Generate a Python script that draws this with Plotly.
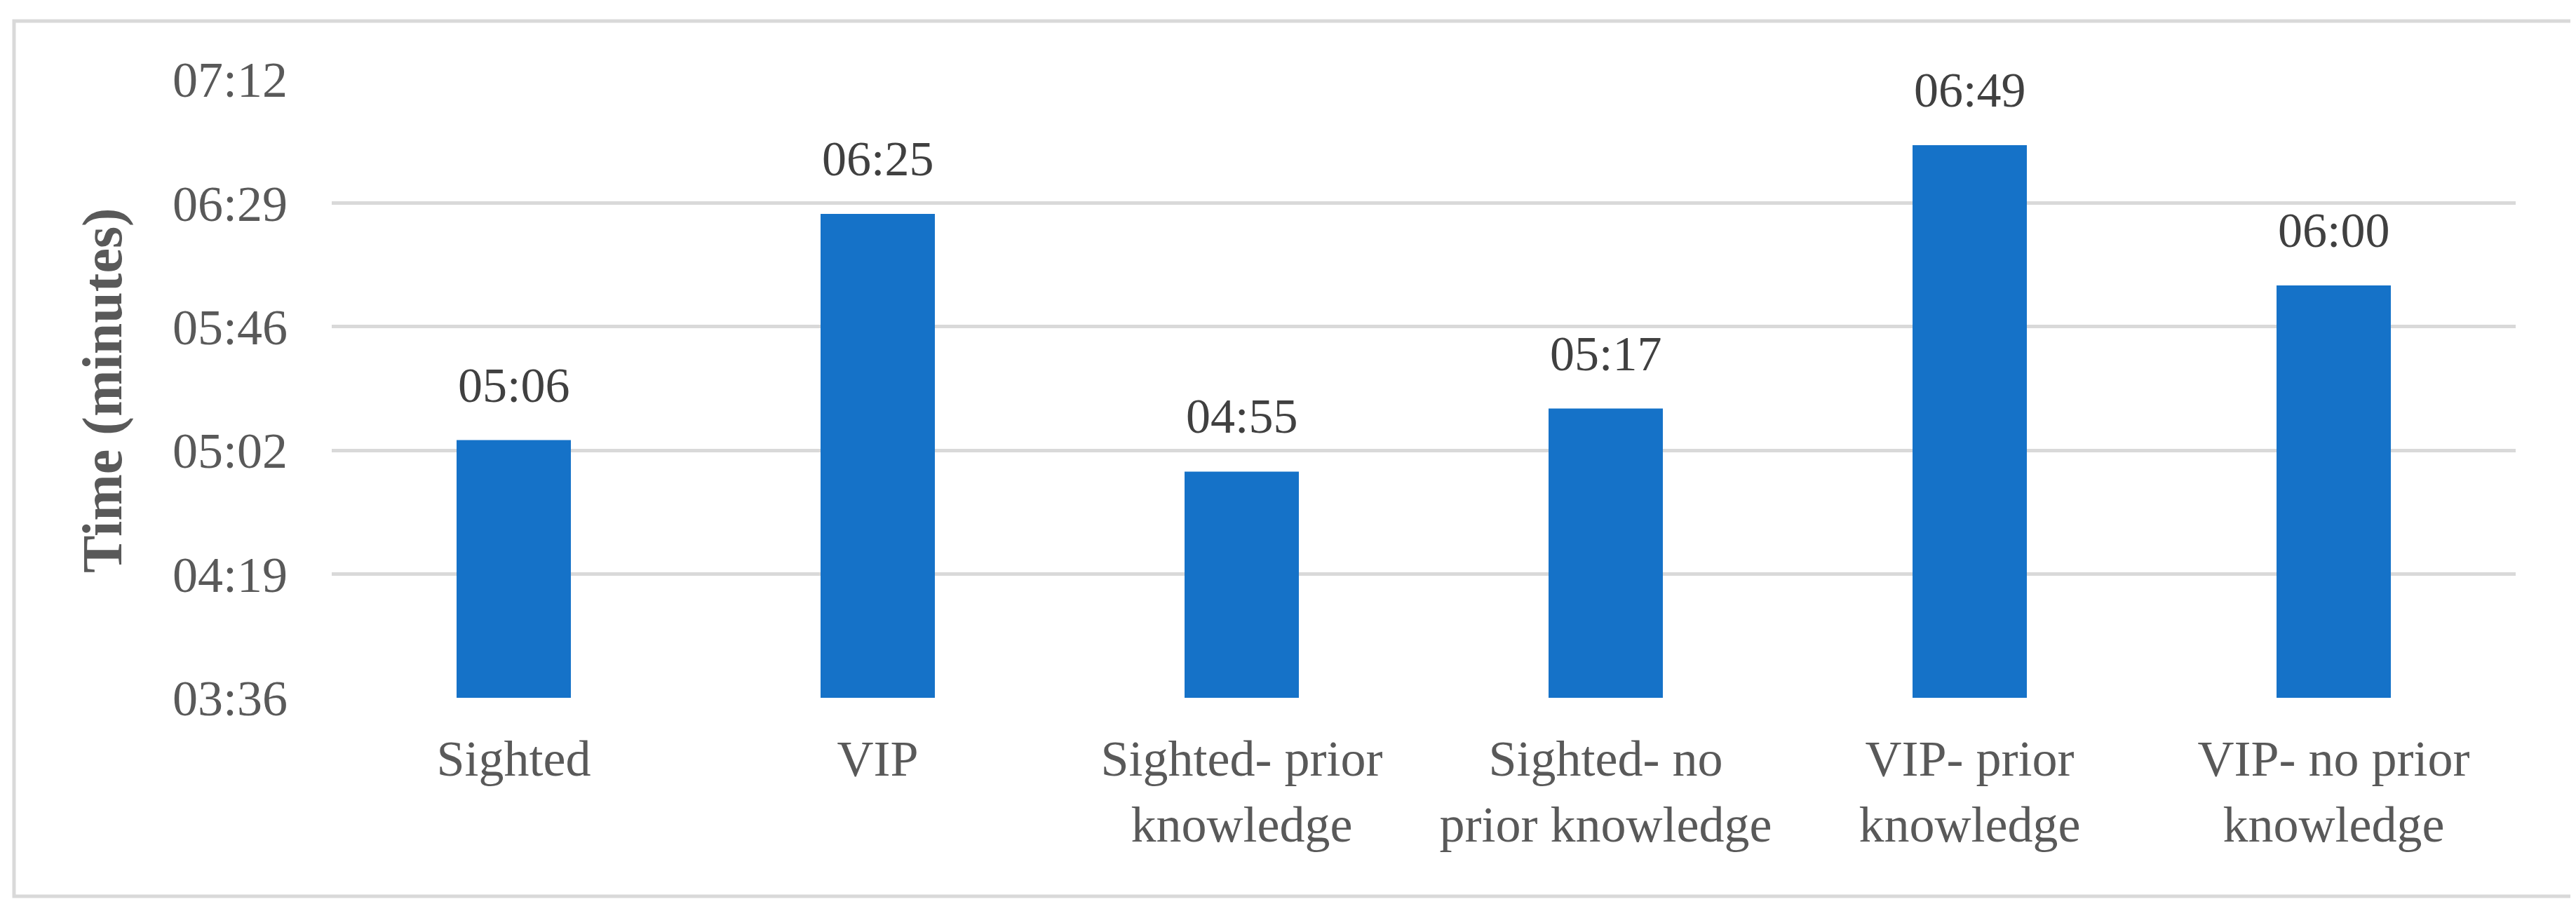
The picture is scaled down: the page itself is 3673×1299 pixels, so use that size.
import plotly.graph_objects as go

# ---- data ----
categories = [
    "Sighted",
    "VIP",
    "Sighted- prior<br>knowledge",
    "Sighted- no<br>prior knowledge",
    "VIP- prior<br>knowledge",
    "VIP- no prior<br>knowledge",
]
times_sec = [306, 385, 295, 317, 409, 360]          # 05:06, 06:25, 04:55, 05:17, 06:49, 06:00
tick_values_sec = [216, 259.2, 302.4, 345.6, 388.8, 432]
tick_labels = ["03:36", "04:19", "05:02", "05:46", "06:29", "07:12"]
y_title = "Time (minutes)"


def mmss(s):
    s = int(round(s))
    return f"{s // 60:02d}:{s % 60:02d}"


bar_labels = [mmss(v) for v in times_sec]

# ---- layout constants (pixels) ----
W, H = 3673, 1299
L, R, T, B = 465, 3579, 105, 987
FONT = "Palatino Linotype, Book Antiqua, Palatino, Liberation Serif, serif"
BAR_COLOR = "#1572C8"
GRID = "#D9D9D9"
TXT = "#595959"

pw = R - L
ph = B - T

fig = go.Figure()
fig.add_trace(go.Bar(
    x=categories,
    y=times_sec,
    marker=dict(color=BAR_COLOR, line=dict(width=0)),
    hoverinfo="skip",
))

for c, v, lab in zip(categories, times_sec, bar_labels):
    fig.add_annotation(
        x=c, y=v, text=lab, showarrow=False,
        xanchor="center", yanchor="bottom", yshift=38,
        font=dict(family=FONT, size=70, color="#404040"),
    )

# y-axis title
fig.add_annotation(
    xref="paper", yref="paper",
    x=(138 - L) / pw, y=(B - 549) / ph,
    text=f"<b>{y_title}</b>", textangle=-90, showarrow=False,
    xanchor="center", yanchor="middle",
    font=dict(family=FONT, size=80, color=TXT),
)

# outer border
fig.add_shape(
    type="rect", xref="paper", yref="paper",
    x0=(12 - L) / pw, x1=(3665 - L) / pw,
    y0=(B - 1270) / ph, y1=(B - 22) / ph,
    line=dict(color=GRID, width=5), fillcolor="rgba(0,0,0,0)",
    layer="below",
)

fig.update_layout(
    width=W, height=H,
    margin=dict(l=L, r=W - R, t=T, b=H - B, pad=0),
    paper_bgcolor="white", plot_bgcolor="white",
    showlegend=False,
    bargap=0.686,
    font=dict(family=FONT, size=70, color=TXT),
)
fig.update_xaxes(
    showgrid=False, zeroline=False,
    showline=False, ticks="",
    tickfont=dict(family=FONT, size=72, color=TXT),
    ticklabelstandoff=38,
)
fig.update_yaxes(
    range=[tick_values_sec[0], tick_values_sec[-1]],
    tickvals=tick_values_sec, ticktext=tick_labels,
    showgrid=True, gridcolor=GRID, gridwidth=5,
    zeroline=False, showline=False, ticks="",
    tickfont=dict(family=FONT, size=72, color=TXT),
    ticklabelstandoff=62,
)

fig.write_html("out.html")
